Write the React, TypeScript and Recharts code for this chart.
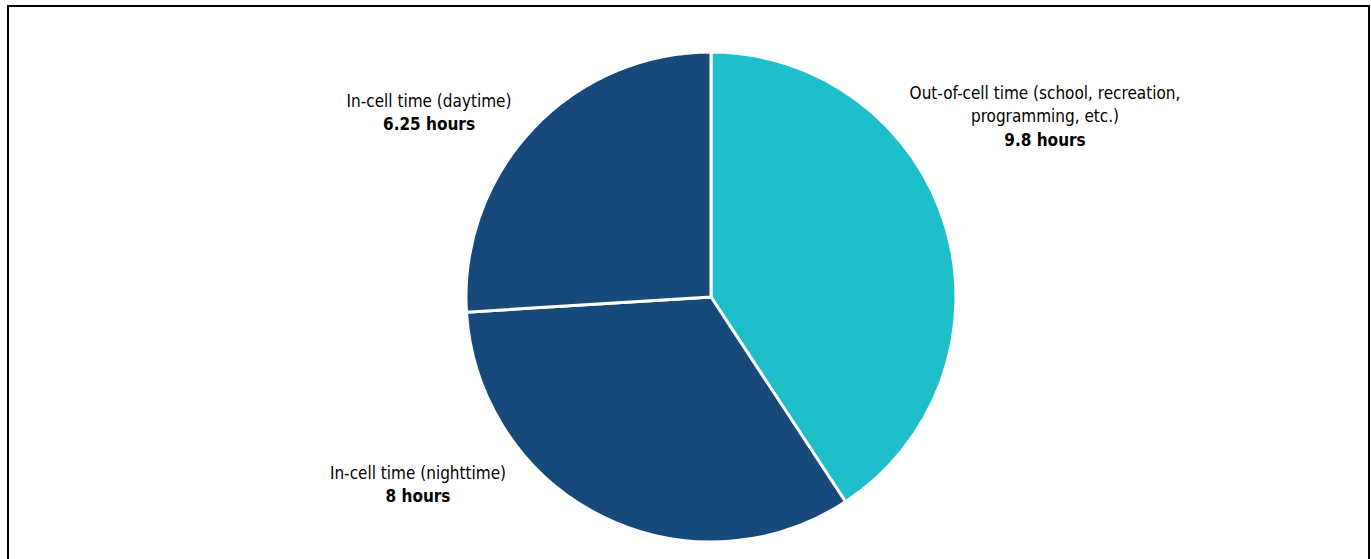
import React from 'react';
import { PieChart, Pie, Cell } from 'recharts';

const categories = [
  'Out-of-cell time (school, recreation,|programming, etc.)',
  'In-cell time (nighttime)',
  'In-cell time (daytime)',
];
const hours = [9.8, 8, 6.25];
const valueLabels = ['9.8 hours', '8 hours', '6.25 hours'];
const colors = ['#1EBECA', '#17497A', '#17497A'];

// label anchor offsets relative to pie center (layout only)
const labelOffsets = [
  { dx: 334, dy: -204 },
  { dx: -293, dy: 176 },
  { dx: -282, dy: -196 },
];

const data = categories.map((c, i) => ({ name: c, value: hours[i], valueLabel: valueLabels[i] }));

const FONT = '"Liberation Sans Narrow", "DejaVu Sans Condensed", "Roboto", sans-serif';

const renderLabel = (props: any) => {
  const { cx, cy, index, payload } = props;
  const off = labelOffsets[index];
  const x = cx + off.dx;
  const y0 = cy + off.dy;
  const lines: string[] = String(payload.name).split('|');
  const lh = 23.5;
  return (
    <text x={x} y={y0} textAnchor="middle" fontFamily={FONT} fontSize={17} fill="#000">
      {lines.map((l, i) => (
        <tspan key={i} x={x} y={y0 + i * lh} dy="0.35em">
          {l}
        </tspan>
      ))}
      <tspan x={x} y={y0 + lines.length * lh} dy="0.35em" fontWeight="bold">
        {payload.valueLabel}
      </tspan>
    </text>
  );
};

export default function App() {
  return (
    <div
      style={{
        position: 'fixed',
        left: 0,
        top: 0,
        width: 1371,
        height: 559,
        overflow: 'hidden',
        background: '#fff',
      }}
    >
      <div
        style={{
          position: 'absolute',
          left: 7,
          top: 5,
          width: 1363,
          height: 700,
          border: '2px solid #000',
          boxSizing: 'border-box',
        }}
      />
      <div style={{ position: 'absolute', left: 0, top: 0 }}>
        <PieChart width={1371} height={559} margin={{ top: 0, right: 0, bottom: 0, left: 0 }}>
          <Pie
            data={data}
            dataKey="value"
            nameKey="name"
            cx={711}
            cy={297}
            outerRadius={245}
            startAngle={90}
            endAngle={-270}
            stroke="#fff"
            strokeWidth={3}
            label={renderLabel}
            labelLine={false}
            isAnimationActive={false}
          >
            {data.map((d, i) => (
              <Cell key={i} fill={colors[i]} />
            ))}
          </Pie>
        </PieChart>
      </div>
    </div>
  );
}
